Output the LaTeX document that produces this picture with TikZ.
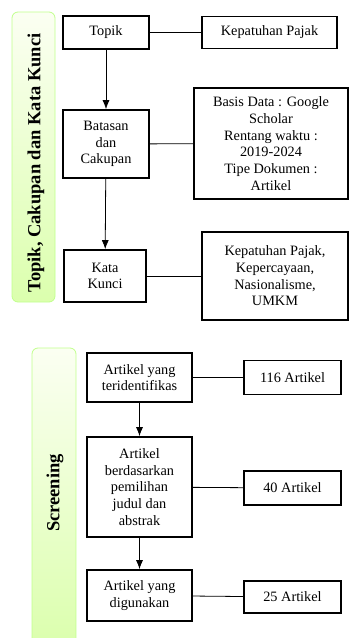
\documentclass[tikz,border=0pt]{standalone}
\usepackage{fontspec}
\setmainfont{Liberation Serif}
\usetikzlibrary{arrows.meta}
\begin{document}
\begin{tikzpicture}[x=1pt,y=-1pt,>={Latex[length=9pt,width=7pt]},
  box/.style={draw,line width=1.7pt,inner sep=0pt,align=center,font=\fontsize{14.3}{16.7}\selectfont},
  panel/.style={draw=green!40!lime!45!white,line width=0.8pt,rounded corners=6pt,top color=green!6!lime!5!white,bottom color=green!25!lime!32!white},
  sidetext/.style={rotate=90,font=\fontsize{18.5}{20}\selectfont\bfseries},
  link/.style={line width=0.8pt}]
\useasboundingbox (0,0) rectangle (349,638);
% Topik, Cakupan dan Kata Kunci
\draw[panel] (12,12) rectangle (55,302);
\node[sidetext] (side1) at (36,163) {Topik, Cakupan dan Kata Kunci};
\node[box,minimum width=86,minimum height=33] (topik) at (106,32.5) {Topik};
\node[box,minimum width=135,minimum height=32] (pajak) at (269.5,32.5) {Kepatuhan Pajak};
\node[box,minimum width=86,minimum height=68] (batasan) at (106,144) {Batasan\\dan\\Cakupan};
\node[box,minimum width=154,minimum height=111] (basis) at (271,143.5) {Basis Data : Google\\Scholar\\Rentang waktu :\\2019-2024\\Tipe Dokumen :\\Artikel};
\node[box,minimum width=82,minimum height=52] (kata) at (105,276) {Kata\\Kunci};
\node[box,minimum width=146,minimum height=88] (kunci) at (275,276) {Kepatuhan Pajak,\\Kepercayaan,\\Nasionalisme,\\UMKM};
\draw[link] (topik) -- (pajak);
\draw[link] (batasan) -- (basis);
\draw[link] (kata) -- (kunci);
\draw[link,->] (topik) -- (batasan);
\draw[link,->] (batasan) -- (kata);
% Screening
\draw[panel] (32,348) rectangle (76,645);
\node[sidetext] (side2) at (55,493) {Screening};
\node[box,minimum width=105,minimum height=49] (ident) at (139.5,377.5) {Artikel yang\\teridentifikas};
\node[box,minimum width=97,minimum height=34] (n116) at (292.5,377.5) {116 Artikel};
\node[box,minimum width=105,minimum height=100] (judul) at (139.5,487) {Artikel\\berdasarkan\\pemilihan\\judul dan\\abstrak};
\node[box,minimum width=97,minimum height=34] (n40) at (292.5,488) {40 Artikel};
\node[box,minimum width=105,minimum height=51] (guna) at (139.5,595.5) {Artikel yang\\digunakan};
\node[box,minimum width=97,minimum height=32] (n25) at (292.5,597) {25 Artikel};
\draw[link] (ident) -- (n116);
\draw[link] (judul) -- (n40);
\draw[link] (guna) -- (n25);
\draw[link,->] (ident) -- (judul);
\draw[link,->] (judul) -- (guna);
\end{tikzpicture}
\end{document}
